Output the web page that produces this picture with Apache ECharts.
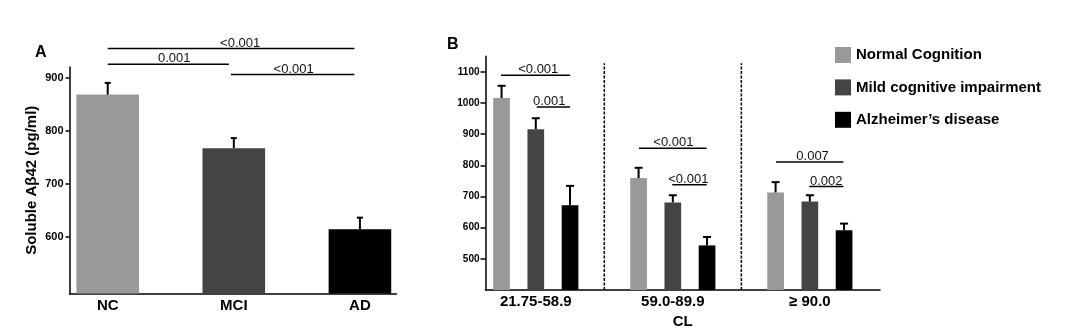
<!DOCTYPE html>
<html>
<head>
<meta charset="utf-8">
<script src="https://cdn.jsdelivr.net/npm/echarts@6/dist/echarts.min.js"></script>
<style>html,body{margin:0;padding:0;background:#fff;}#c{width:1080px;height:335px;}</style>
</head>
<body>
<div id="c"></div>
<script>
// ---------- Panel A data ----------
const catsA = ['NC', 'MCI', 'AD'];
const meanA = [868, 767, 614];
const upperA = [890, 786, 636];
const ticksA = [600, 700, 800, 900];
// brackets: [x1, x2, y, labelX] in data units
const bracketsA = [[0, 1.956, 955, 1.05], [0, 0.961, 925, 0.527], [0.977, 1.956, 906, 1.474]];
const bracketTextA = ['<0.001', '0.001', '<0.001'];

// ---------- Panel B data ----------
const groupsB = ['21.75-58.9', '59.0-89.9', '\u2265 90.0'];
const seriesNames = ['Normal Cognition', 'Mild cognitive impairment', 'Alzheimer\u2019s disease'];
const ncB = [1016, 759, 713];
const ncUpper = [1055, 792, 746];
const mciB = [916, 681, 684];
const mciUpper = [951, 704, 704];
const adB = [672, 543, 592];
const adUpper = [734, 570, 613];
const ticksB = [500, 600, 700, 800, 900, 1000, 1100];
const bracketsB = [[-0.254, 0.25, 1089, 0.018], [0.007, 0.25, 987, 0.098], [0.753, 1.247, 854.5, 1.004],
                   [0.996, 1.247, 737.5, 1.113], [1.753, 2.245, 810.6, 2.02], [1.996, 2.245, 732, 2.12]];
const bracketTextB = ['<0.001', '0.001', '<0.001', '<0.001', '0.007', '0.002'];
const separatorsB = [0.5, 1.5];
const separatorTop = 1127;

// ---------- styles / layout ----------
const FONT = '"Liberation Sans", Arial, Helvetica, sans-serif';
const colors = ['#999999', '#444444', '#000000'];
const barWA = 62.6, barWB = 16.7, gapB = 1.05;
const stepB = barWB * (1 + gapB);

const chart = echarts.init(document.getElementById('c'), null, {renderer: 'canvas'});

function errSeries(xi, yi, means, uppers, offsetPx, capHalf) {
  return {
    type: 'custom', xAxisIndex: xi, yAxisIndex: yi, clip: false, z: 5, silent: true,
    data: means.map((m, i) => [i, m, uppers[i]]),
    encode: {x: 0, y: [1, 2]},
    renderItem: (params, api) => {
      const b = api.coord([api.value(0), api.value(1)]);
      const t = api.coord([api.value(0), api.value(2)]);
      const x = b[0] + offsetPx;
      return {type: 'group', children: [
        {type: 'line', shape: {x1: x, y1: b[1], x2: x, y2: t[1]}, style: {stroke: '#000', lineWidth: 2}},
        {type: 'line', shape: {x1: x - capHalf, y1: t[1], x2: x + capHalf, y2: t[1]}, style: {stroke: '#000', lineWidth: 2}}
      ]};
    }
  };
}

function bracketSeries(xi, yi, brackets, texts) {
  return {
    type: 'custom', xAxisIndex: xi, yAxisIndex: yi, clip: false, z: 5, silent: true,
    data: brackets,
    encode: {x: [0, 1], y: 2},
    renderItem: (params, api) => {
      const p1 = api.coord([api.value(0), api.value(2)]);
      const p2 = api.coord([api.value(1), api.value(2)]);
      const pt = api.coord([api.value(3), api.value(2)]);
      return {type: 'group', children: [
        {type: 'line', shape: {x1: p1[0], y1: p1[1], x2: p2[0], y2: p2[1]}, style: {stroke: '#000', lineWidth: 1.5}},
        {type: 'text', x: pt[0], y: pt[1] + 1, style: {text: texts[params.dataIndex], fill: '#111',
          font: '13px ' + FONT, align: 'center', verticalAlign: 'bottom'}}
      ]};
    }
  };
}

const axisLineStyle = {color: '#000', width: 1.5};
const plain = v => String(v);

const option = {
  animation: false,
  backgroundColor: '#fff',
  title: [
    {text: 'A', left: 35, top: 45, padding: 0, textStyle: {fontFamily: FONT, fontWeight: 'bold', fontSize: 16, color: '#000'}},
    {text: 'B', left: 447, top: 37, padding: 0, textStyle: {fontFamily: FONT, fontWeight: 'bold', fontSize: 16, color: '#000'}}
  ],
  legend: {
    data: seriesNames, orient: 'vertical', left: 835, top: 47, padding: 0,
    itemWidth: 16, itemHeight: 16, itemGap: 16.4, icon: 'rect',
    textStyle: {fontFamily: FONT, fontWeight: 'bold', fontSize: 15, color: '#000', lineHeight: 16}
  },
  grid: [
    {left: 69.5, right: 1080 - 396.5, top: 67, bottom: 335 - 293.5, containLabel: false},
    {left: 485.5, right: 1080 - 880, top: 56.2, bottom: 335 - 290, containLabel: false}
  ],
  xAxis: [
    {type: 'value', gridIndex: 0, min: -0.303, max: 2.29, splitLine: {show: false},
      axisLine: {show: true, lineStyle: axisLineStyle, onZero: false}, axisTick: {show: false},
      axisLabel: {customValues: [0, 1, 2], formatter: v => catsA[Math.round(v)] || '', margin: 5,
        fontFamily: FONT, fontWeight: 'bold', fontSize: 15, color: '#000', lineHeight: 15}},
    {type: 'value', gridIndex: 1, min: -0.367, max: 2.512, splitLine: {show: false},
      axisLine: {show: true, lineStyle: axisLineStyle, onZero: false}, axisTick: {show: false},
      name: 'CL', nameLocation: 'middle', nameGap: 23,
      nameTextStyle: {fontFamily: FONT, fontWeight: 'bold', fontSize: 15, color: '#000', lineHeight: 15},
      axisLabel: {customValues: [0, 1, 2], formatter: v => groupsB[Math.round(v)] || '', margin: 4,
        fontFamily: FONT, fontWeight: 'bold', fontSize: 15, color: '#000', lineHeight: 15}}
  ],
  yAxis: [
    {type: 'value', gridIndex: 0, min: 493, max: 920, splitLine: {show: false},
      axisLine: {show: true, onZero: false, lineStyle: axisLineStyle},
      axisTick: {show: true, length: 4, lineStyle: axisLineStyle, customValues: ticksA},
      axisLabel: {customValues: ticksA, formatter: plain, margin: 6, fontFamily: FONT, fontWeight: 'bold', fontSize: 11, color: '#000'},
      name: 'Soluble A\u03b242 (pg/ml)', nameLocation: 'middle', nameGap: 30,
      nameTextStyle: {fontFamily: FONT, fontWeight: 'bold', fontSize: 15, color: '#000'}},
    {type: 'value', gridIndex: 1, min: 400, max: 1150, splitLine: {show: false},
      axisLine: {show: true, onZero: false, lineStyle: axisLineStyle},
      axisTick: {show: true, length: 5, lineStyle: axisLineStyle, customValues: ticksB},
      axisLabel: {customValues: ticksB, formatter: plain, margin: 6, fontFamily: FONT, fontWeight: 'bold', fontSize: 10, color: '#000'}}
  ],
  series: [
    {type: 'bar', xAxisIndex: 0, yAxisIndex: 0, barWidth: barWA, silent: true,
      data: meanA.map((v, i) => ({value: [i, v], itemStyle: {color: colors[i]}}))},
    errSeries(0, 0, meanA, upperA, 0, 3),
    bracketSeries(0, 0, bracketsA, bracketTextA),
    {type: 'bar', name: seriesNames[0], xAxisIndex: 1, yAxisIndex: 1, barWidth: barWB, barGap: (gapB * 100) + '%',
      itemStyle: {color: colors[0]}, silent: true, data: ncB.map((v, i) => [i, v])},
    {type: 'bar', name: seriesNames[1], xAxisIndex: 1, yAxisIndex: 1, barWidth: barWB, barGap: (gapB * 100) + '%',
      itemStyle: {color: colors[1]}, silent: true, data: mciB.map((v, i) => [i, v])},
    {type: 'bar', name: seriesNames[2], xAxisIndex: 1, yAxisIndex: 1, barWidth: barWB, barGap: (gapB * 100) + '%',
      itemStyle: {color: colors[2]}, silent: true, data: adB.map((v, i) => [i, v])},
    errSeries(1, 1, ncB, ncUpper, -stepB, 4),
    errSeries(1, 1, mciB, mciUpper, 0, 4),
    errSeries(1, 1, adB, adUpper, stepB, 4),
    bracketSeries(1, 1, bracketsB, bracketTextB),
    {type: 'custom', xAxisIndex: 1, yAxisIndex: 1, clip: false, silent: true, z: 4,
      data: separatorsB.map(x => [x, 400, separatorTop]),
      encode: {x: 0, y: [1, 2]},
      renderItem: (params, api) => {
        const b = api.coord([api.value(0), api.value(1)]);
        const t = api.coord([api.value(0), api.value(2)]);
        return {type: 'line', shape: {x1: b[0], y1: b[1], x2: t[0], y2: t[1]},
          style: {stroke: '#000', lineWidth: 1.5, lineDash: [3, 1.5]}};
      }}
  ]
};
chart.setOption(option);
</script>
</body>
</html>
